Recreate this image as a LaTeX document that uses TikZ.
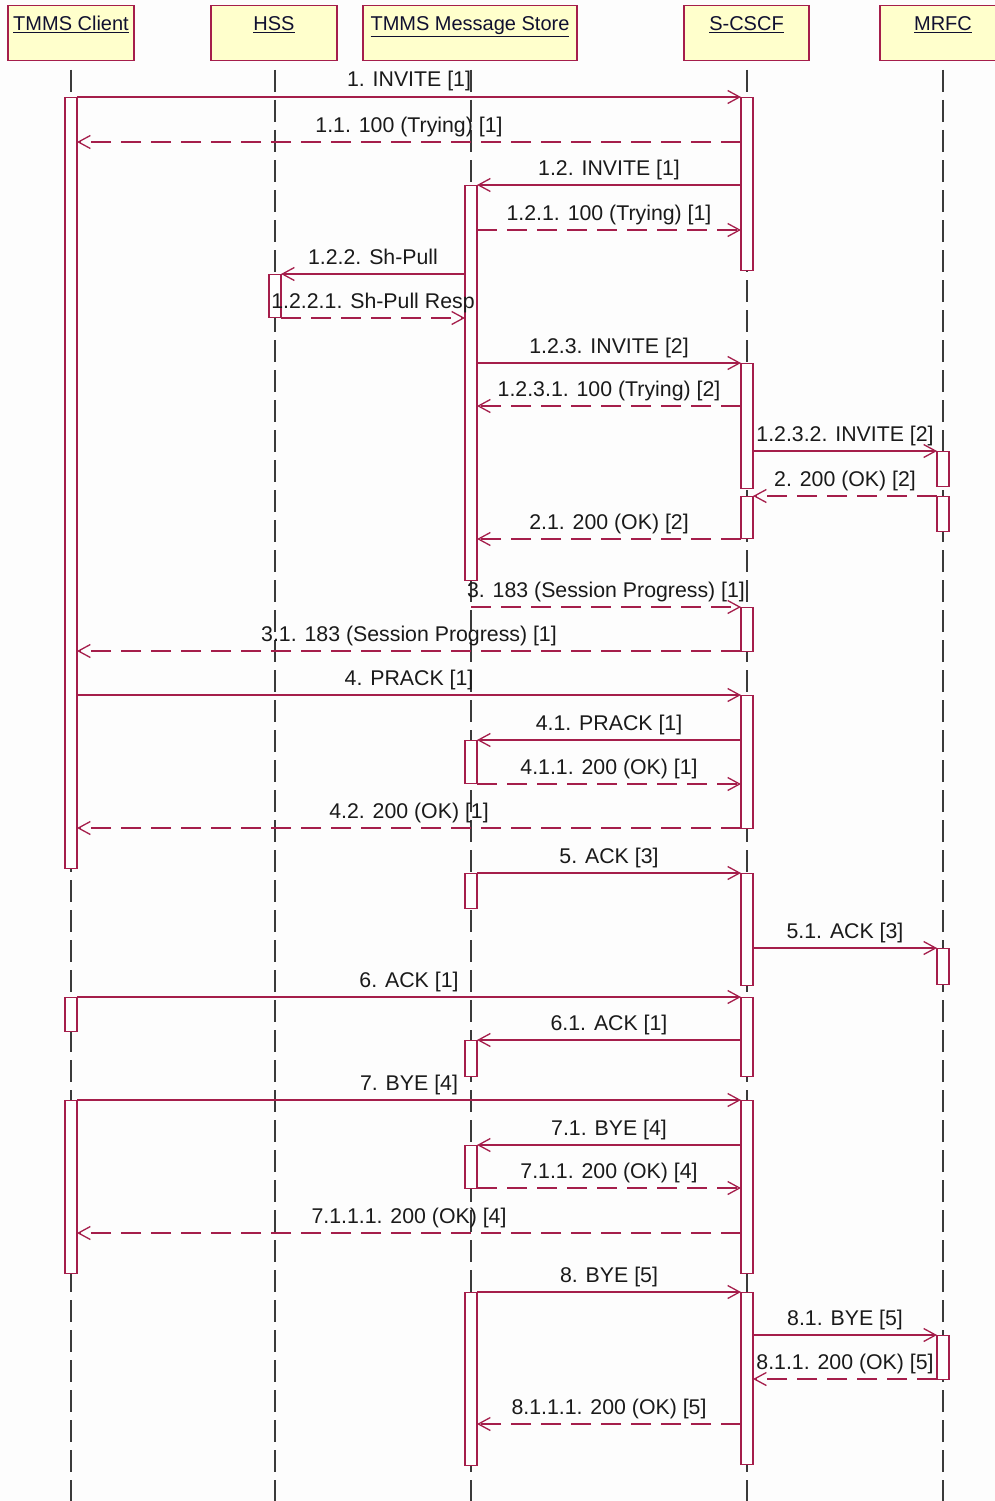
\documentclass[tikz,border=0pt]{standalone}
\usepackage{fontspec}
\setmainfont{Liberation Sans}
\usetikzlibrary{arrows.meta,calc}
\definecolor{hdrfill}{HTML}{FFFFCC}
\definecolor{crim}{HTML}{A51E4B}
\definecolor{lifec}{HTML}{3A3A3A}
\definecolor{txt}{HTML}{1A1A1A}
\definecolor{bg}{HTML}{FDFDFD}
\definecolor{hdrtxt}{HTML}{101030}
\tikzset{
 hdr/.style={draw=crim, line width=1.4pt, fill=hdrfill, anchor=north, minimum width=126pt, inner ysep=4pt, inner xsep=2pt, text height=21pt, text depth=26pt, font=\fontsize{20}{24}\selectfont, text=hdrtxt},
 life/.style={draw=lifec, line width=1.6pt, dash pattern=on 22pt off 8pt},
 actb/.style={draw=crim, line width=1.3pt, fill=white},
 call/.style={draw=crim, line width=1.3pt, -{Straight Barb[length=12pt,width=13pt,line width=1.3pt]}},
 reply/.style={call, dash pattern=on 20pt off 10pt},
 lbl/.style={anchor=base, inner sep=0pt, font=\fontsize{21.3}{24}\selectfont, text=txt},
}
\newcommand\seqmsg[6]{%
  \coordinate (#1s) at (#3,#2);
  \coordinate (#1e) at (#4,#2);
  \draw[#6] (#1s) -- (#1e);
  \node[lbl] (#1l) at ($(#1s)!0.5!(#1e)+(0,-10)$) {#5};
}
\newcommand\actbox[4]{%
  \node[actb, inner sep=0pt, minimum width=12pt, minimum height={#4-#3}, anchor=north] (#1) at (#2,#3) {};
}
\begin{document}
\begin{tikzpicture}[x=1pt,y=-1pt]
\useasboundingbox (0,0) rectangle (995,1501);
\clip (0,0) rectangle (995,1501);
\fill[bg] (0,0) rectangle (995,1501);
% headers
\node[hdr] (client) at (71,5) {\underline{TMMS Client}};
\node[hdr] (hss) at (274,5) {\underline{HSS}};
\node[hdr, minimum width=214pt] (store) at (470,5) {\underline{TMMS Message Store}};
\node[hdr, minimum width=125pt] (scscf) at (746.5,5) {\underline{S-CSCF}};
\node[hdr] (mrfc) at (943,5) {\underline{MRFC}};
% lifelines
\coordinate (clT) at (71,70);   \coordinate (clB) at (71,1501);
\coordinate (hsT) at (275,70);  \coordinate (hsB) at (275,1501);
\coordinate (msT) at (471,70);  \coordinate (msB) at (471,1501);
\coordinate (scT) at (747,70);  \coordinate (scB) at (747,1501);
\coordinate (mrT) at (943,70);  \coordinate (mrB) at (943,1501);
\draw[life] (clT) -- (clB);
\draw[life] (hsT) -- (hsB);
\draw[life] (msT) -- (msB);
\draw[life] (scT) -- (scB);
\draw[life] (mrT) -- (mrB);
% activation boxes
\actbox{ca1}{71}{97}{868}
\actbox{ca2}{71}{997}{1031}
\actbox{ca3}{71}{1100}{1273}
\actbox{ha1}{275}{274}{317}
\actbox{sa1}{471}{185}{580}
\actbox{sa2}{471}{740}{783}
\actbox{sa3}{471}{873}{908}
\actbox{sa4}{471}{1040}{1076}
\actbox{sa5}{471}{1145}{1188}
\actbox{sa6}{471}{1292}{1465}
\actbox{xa1}{747}{97}{270}
\actbox{xa2}{747}{363}{488}
\actbox{xa3}{747}{496}{538}
\actbox{xa4}{747}{607}{651}
\actbox{xa5}{747}{695}{828}
\actbox{xa6}{747}{873}{985}
\actbox{xa7}{747}{997}{1076}
\actbox{xa8}{747}{1100}{1273}
\actbox{xa9}{747}{1292}{1464}
\actbox{ma1}{943}{451}{486}
\actbox{ma2}{943}{496}{531}
\actbox{ma3}{943}{948}{984}
\actbox{ma4}{943}{1335}{1379}
% messages
\seqmsg{m1}{97}{77}{741}{1. INVITE [1]}{call}
\seqmsg{ma}{142}{741}{77}{1.1. 100 (Trying) [1]}{reply}
\seqmsg{mb}{185}{741}{477}{1.2. INVITE [1]}{call}
\seqmsg{mc}{230}{477}{741}{1.2.1. 100 (Trying) [1]}{reply}
\seqmsg{md}{274}{465}{281}{1.2.2. Sh-Pull}{call}
\seqmsg{me}{318}{281}{465}{1.2.2.1. Sh-Pull Resp}{reply}
\seqmsg{mf}{363}{477}{741}{1.2.3. INVITE [2]}{call}
\seqmsg{mg}{406}{741}{477}{1.2.3.1. 100 (Trying) [2]}{reply}
\seqmsg{mh}{451}{753}{937}{1.2.3.2. INVITE [2]}{call}
\seqmsg{m2}{496}{937}{753}{2. 200 (OK) [2]}{reply}
\seqmsg{mi}{539}{741}{477}{2.1. 200 (OK) [2]}{reply}
\seqmsg{m3}{607}{471}{741}{3. 183 (Session Progress) [1]}{reply}
\seqmsg{mj}{651}{741}{77}{3.1. 183 (Session Progress) [1]}{reply}
\seqmsg{m4}{695}{77}{741}{4. PRACK [1]}{call}
\seqmsg{mk}{740}{741}{477}{4.1. PRACK [1]}{call}
\seqmsg{ml}{784}{477}{741}{4.1.1. 200 (OK) [1]}{reply}
\seqmsg{mm}{828}{741}{77}{4.2. 200 (OK) [1]}{reply}
\seqmsg{m5}{873}{477}{741}{5. ACK [3]}{call}
\seqmsg{mn}{948}{753}{937}{5.1. ACK [3]}{call}
\seqmsg{m6}{997}{77}{741}{6. ACK [1]}{call}
\seqmsg{mo}{1040}{741}{477}{6.1. ACK [1]}{call}
\seqmsg{m7}{1100}{77}{741}{7. BYE [4]}{call}
\seqmsg{mp}{1145}{741}{477}{7.1. BYE [4]}{call}
\seqmsg{mq}{1188}{477}{741}{7.1.1. 200 (OK) [4]}{reply}
\seqmsg{mr}{1233}{741}{77}{7.1.1.1. 200 (OK) [4]}{reply}
\seqmsg{m8}{1292}{477}{741}{8. BYE [5]}{call}
\seqmsg{ms}{1335}{753}{937}{8.1. BYE [5]}{call}
\seqmsg{mt}{1379}{937}{753}{8.1.1. 200 (OK) [5]}{reply}
\seqmsg{mu}{1424}{741}{477}{8.1.1.1. 200 (OK) [5]}{reply}
\end{tikzpicture}
\end{document}
